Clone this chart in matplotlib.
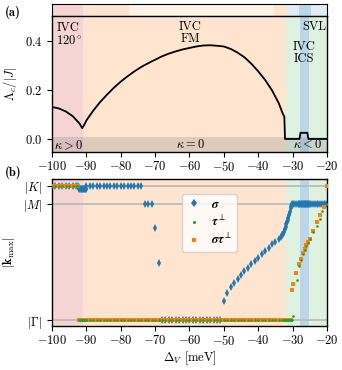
import numpy as np
import matplotlib
matplotlib.use("Agg")
import matplotlib.pyplot as plt

plt.rcParams['font.family'] = ['cmr10', 'DejaVu Serif']
plt.rcParams['mathtext.fontset'] = 'cm'
plt.rcParams['axes.formatter.use_mathtext'] = True
plt.rcParams['font.size'] = 9
plt.rcParams['axes.unicode_minus'] = True

# ---------------- data ----------------
# phase boundaries (meV)
phase_edges = [-100, -91.1, -32.0, -27.9, -25.1, -20]
phase_colors = ['#f7d4d4', '#ffe5cf', '#dff1df', '#bcd6e8', '#dff1df']

strip_edges = [-100, -91.0, -77.5, -35.4, -31.5, -28.0, -24.7, -20]
strip_colors = ['#f7d4d4', '#ffe5cf', '#fff2e7', '#ffe5cf', '#e2ecf5', '#bcd6e8', '#e2ecf5']

# panel (a): critical coupling
delta_a = [-100, -98, -96, -94, -92, -91.2, -90.6, -90, -88, -86, -84, -82, -80,
           -78, -76, -74, -72, -70, -68, -66, -64, -62, -60, -58, -56, -54, -52,
           -50, -48, -46, -44, -42, -40, -38, -36, -34, -33, -32.4, -32.2,
           -28.0, -27.7, -25.7, -25.4, -20]
lambda_c = [0.130, 0.124, 0.112, 0.093, 0.063, 0.044, 0.058, 0.075, 0.115, 0.150,
            0.180, 0.208, 0.233, 0.255, 0.275, 0.293, 0.308, 0.322, 0.336, 0.347,
            0.356, 0.364, 0.370, 0.376, 0.380, 0.381, 0.379, 0.376, 0.366, 0.351,
            0.332, 0.306, 0.275, 0.240, 0.198, 0.145, 0.108, 0.090, 0.0,
            0.0, 0.025, 0.025, 0.0, 0.0]

# panel (b): ordering wavevector magnitude (in units of |M|)
G_val, M_val, K_val = 0.0, 1.0, 2 / np.sqrt(3)

sigma_delta = ([-100, -99, -98, -97, -96, -95, -94, -93, -92.4]
               + [-92.0, -91.8, -91.6, -91.4, -91.2, -91.0, -90.8, -90.6, -90.4, -90.2, -90.0]
               + list(np.arange(-90.0, -73.5, 1.0))
               + [-73, -72, -71, -70, -69]
               + list(np.arange(-68.0, -50.5, 1.0))
               + [-50, -49, -48, -47, -46, -45, -44, -43, -42, -41, -40, -39, -38, -37,
                  -36, -35, -34, -33.5, -33, -32.8, -32.5, -32.2, -32.0, -31.8, -31.6,
                  -31.4, -31.2, -31.0, -30.8, -30.6, -30.4]
               + [-30.2, -30.0, -29.5, -29.0, -28.5, -28.2]
               + list(np.arange(-28.0, -24.9, 0.2))
               + [-24.5, -24.0, -23.5, -23.0, -22.5, -22.0, -21.5, -21.0, -20.5, -20.0])
sigma_vals = ([K_val] * 9
              + [1.13] * 11
              + [K_val] * 17
              + [M_val, M_val, M_val, 0.789, 0.491]
              + [G_val] * 18
              + [0.168, 0.231, 0.288, 0.323, 0.351, 0.389, 0.423, 0.451, 0.480, 0.509,
                 0.537, 0.566, 0.594, 0.623, 0.652, 0.675, 0.700, 0.715, 0.730, 0.745,
                 0.760, 0.785, 0.803, 0.825, 0.845, 0.865, 0.880, 0.905, 0.930, 0.960,
                 0.985]
              + [M_val] * 6
              + [M_val] * 16
              + [M_val] * 10)

tau_delta = ([-100, -99, -98, -97, -96, -95, -94, -93, -92.4]
             + [-92.0, -91.8, -91.6, -91.4, -91.2, -91.0, -90.8, -90.6, -90.4, -90.2]
             + list(np.arange(-90.0, -32.5, 1.0))
             + [-32.6, -32.4, -32.2, -32.0, -31.8, -31.6, -31.4, -31.2, -31.0, -30.8, -30.6, -30.4, -30.2]
             + [-29.8, -28.8]
             + [-28.0, -27.5, -27.0, -26.5, -26.0, -25.5, -25.0]
             + [-24.0, -23.0, -22.0, -21.3, -20.0])
tau_vals = ([K_val] * 9
            + [G_val] * 10
            + [G_val] * 58
            + [G_val] * 13
            + [0.037, 0.35]
            + [0.47, 0.52, 0.565, 0.605, 0.638, 0.665, 0.695]
            + [0.755, 0.807, 0.866, 0.940, 1.0])

sigtau_delta = ([-100, -99, -98, -97, -96, -95, -94, -93, -92.4]
                + [-92.0, -91.8, -91.6, -91.4, -91.2, -91.0, -90.8, -90.6, -90.4, -90.2]
                + list(np.arange(-90.0, -32.5, 1.0))
                + [-32.6, -32.4, -32.2, -32.0, -31.8, -31.6, -31.4, -31.2, -31.0, -30.8, -30.6, -30.4]
                + [-30.2, -29.9, -29.0]
                + [-28.0, -27.5, -27.0, -26.5, -26.0, -25.5, -25.0]
                + [-24.0, -23.0, -22.0, -20.8, -20.0])
sigtau_vals = ([K_val] * 9
               + [G_val] * 10
               + [G_val] * 58
               + [G_val] * 12
               + [0.26, 0.31, 0.41]
               + [0.48, 0.53, 0.575, 0.615, 0.648, 0.675, 0.700]
               + [0.770, 0.840, 0.900, 0.972, K_val])

# ---------------- figure ----------------
fig = plt.figure(figsize=(3.42, 3.70), dpi=100)
L, W = 0.152, 0.804
ax_s = fig.add_axes([L, 0.9568, W, 0.0324])
ax_a = fig.add_axes([L, 0.5892, W, 0.3676])
ax_b = fig.add_axes([L, 0.1197, W, 0.3957])

for i in range(len(strip_colors)):
    ax_s.axvspan(strip_edges[i], strip_edges[i + 1], color=strip_colors[i], lw=0)
ax_s.set_xlim(-100, -20)
ax_s.set_ylim(0, 1)
ax_s.set_xticks([])
ax_s.set_yticks([])

for ax in (ax_a, ax_b):
    for i in range(len(phase_colors)):
        ax.axvspan(phase_edges[i], phase_edges[i + 1], color=phase_colors[i], lw=0, zorder=0)
    ax.set_xlim(-100, -20)
    ax.set_xticks(np.arange(-100, -19, 10))
    ax.tick_params(axis='x', pad=2.5)
    for sp in ax.spines.values():
        sp.set_linewidth(1.0)

# panel (a)
ax_a.set_ylim(-0.053, 0.5)
ax_a.axhspan(-0.06, 0.01, color='gray', alpha=0.25, lw=0, zorder=1)
ax_a.plot(delta_a, lambda_c, color='k', lw=1.3, zorder=3)
ax_a.set_yticks([0.0, 0.2, 0.4])
ax_a.set_ylabel(r'$\Lambda_c/|J|$')
ax_a.text(-98.7, 0.478, 'IVC\n' + r'$120^\circ$', ha='left', va='top', linespacing=1.0)
ax_a.text(-59.8, 0.482, 'IVC\nFM', ha='center', va='top', multialignment='center', linespacing=1.0)
ax_a.text(-20.2, 0.482, 'SVL', ha='right', va='top')
ax_a.text(-26.7, 0.400, 'IVC\nICS', ha='center', va='top', multialignment='center', linespacing=1.0)
ax_a.text(-99.3, -0.024, r'$\kappa > 0$', ha='left', va='center')
ax_a.text(-59.7, -0.024, r'$\kappa = 0$', ha='center', va='center')
ax_a.text(-25.7, -0.024, r'$\kappa < 0$', ha='center', va='center')

# panel (b)
for lev in (G_val, M_val, K_val):
    ax_b.axhline(lev, color='#b8b8b8', lw=1.2, zorder=1)
ax_b.plot(sigma_delta, sigma_vals, ls='none', marker='d', ms=3.6, color='tab:blue',
          mew=0, label=r'$\boldsymbol{\sigma}$', zorder=2)
ax_b.plot(tau_delta, tau_vals, ls='none', marker='.', ms=3.8, color='tab:green',
          mew=0, label=r'$\boldsymbol{\tau}^\perp$', zorder=4)
ax_b.plot(sigtau_delta, sigtau_vals, ls='none', marker='s', ms=3.0, color='tab:orange',
          mew=0, label=r'$\boldsymbol{\sigma\tau}^\perp$', zorder=3)
ax_b.set_ylim(-0.046, 1.21)
ax_b.set_yticks([G_val, M_val, K_val])
ax_b.set_yticklabels([r'$|\Gamma|$', r'$|M|$', r'$|K|$'])
ax_b.set_ylabel(r'$|\mathbf{k}_{\max}|$')
ax_b.set_xlabel(r'$\Delta_V$ [meV]', labelpad=1)
ax_b.legend(loc='upper left', bbox_to_anchor=(0.45, 0.94), handlelength=1.2,
            framealpha=0.8, borderpad=0.35, labelspacing=0.25, markerscale=1.2,
            fontsize=9)

fig.text(0.015, 0.985, '(a)', family='cmb10', fontsize=9, va='top')
fig.text(0.015, 0.552, '(b)', family='cmb10', fontsize=9, va='top')

fig.savefig('out.png', dpi=100)
